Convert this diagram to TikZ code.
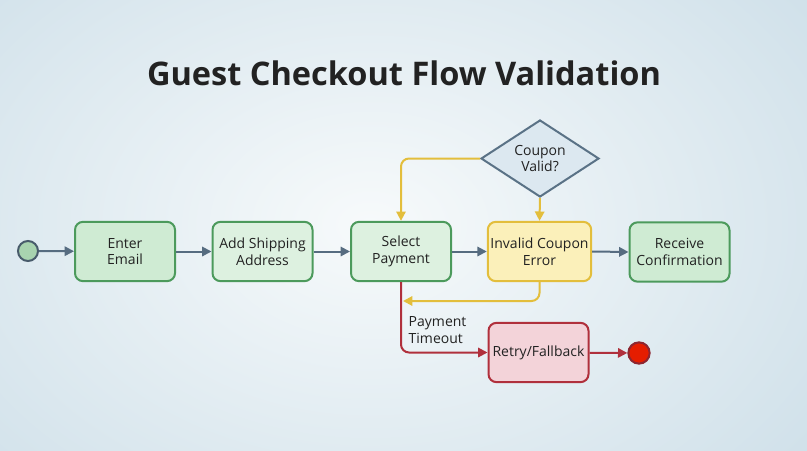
\documentclass[tikz,border=0pt]{standalone}
\usepackage{fontspec}
\setmainfont{Open Sans}
\usetikzlibrary{shapes.geometric,arrows.meta,positioning}
\definecolor{bgin}{HTML}{F7FAFB}
\definecolor{bgout}{HTML}{CCDEE8}
\definecolor{gfill}{HTML}{CFEBD3}
\definecolor{gfilll}{HTML}{DDF1E0}
\definecolor{gdraw}{HTML}{4C9A5C}
\definecolor{yfill}{HTML}{FBF0BA}
\definecolor{ydraw}{HTML}{E3BE3C}
\definecolor{rfill}{HTML}{F3D3D9}
\definecolor{rdraw}{HTML}{B0303C}
\definecolor{dfill}{HTML}{DCE8F0}
\definecolor{ddraw}{HTML}{5A7286}
\definecolor{arr}{HTML}{566C80}
\definecolor{txt}{HTML}{222222}
\begin{document}
\begin{tikzpicture}[x=0.75pt,y=-0.75pt,
  box/.style={rectangle,rounded corners=6pt,line width=1.5pt,minimum width=75pt,minimum height=44.5pt,align=center,font=\fontsize{10.5}{12.5}\selectfont,text=txt,inner sep=2pt},
  gbox/.style={box,draw=gdraw,fill=gfill},
  gboxl/.style={box,draw=gdraw,fill=gfilll},
  ybox/.style={box,draw=ydraw,fill=yfill},
  rbox/.style={box,draw=rdraw,fill=rfill},
  arrowline/.style={draw=arr,line width=1.5pt,-{Triangle[length=7pt,width=7pt]}},
  yline/.style={draw=ydraw,line width=1.5pt,rounded corners=6pt,-{Triangle[length=7pt,width=7pt]}},
  rline/.style={draw=rdraw,line width=1.5pt,rounded corners=6pt,-{Triangle[length=7pt,width=7pt]}}
]
\useasboundingbox (0,0) rectangle (807,450);
\begin{scope}
\clip (0,0) rectangle (807,450);
\shade[inner color=bgin,outer color=bgout] (-230,-200) rectangle (970,650);
\end{scope}
\node[font=\fontsize{24.4}{28}\selectfont\bfseries,text=txt] (title) at (404,73) {Guest Checkout Flow Validation};
\node[circle,draw=ddraw!80!black,fill=gfill!70!gdraw,line width=1.5pt,minimum size=15pt,inner sep=0pt] (start) at (28,251) {};
\node[gbox] (email) at (125,251.5) {Enter\\Email};
\node[gboxl] (ship) at (262.5,251.5) {Add Shipping\\Address};
\node[gboxl] (pay) at (401,251.5) {Select\\Payment};
\node[ybox] (inv) at (539.5,251.5) {Invalid Coupon\\Error};
\node[gbox] (conf) at (679.5,252) {Receive\\Confirmation};
\node[diamond,draw=ddraw,fill=dfill,line width=1.5pt,aspect=1.53,minimum width=88.5pt,minimum height=57.75pt,inner sep=0pt,align=center,font=\fontsize{10.5}{12.5}\selectfont,text=txt] (dia) at (540,158.5) {Coupon\\Valid?};
\node[rbox] (retry) at (538.5,352.5) {Retry/Fallback};
\node[circle,draw=rdraw!80!black,fill=red!75!orange!90!black,line width=1.5pt,minimum size=16pt,inner sep=0pt] (end) at (639,353) {};
\draw[arrowline] (start) -- (email);
\draw[arrowline] (email) -- (ship);
\draw[arrowline] (ship) -- (pay);
\draw[arrowline] (pay) -- (inv);
\draw[arrowline] (inv.east) -- (conf.west);
\draw[yline] (dia.west) -| (pay.north);
\draw[yline] (dia.south) -- (inv.north);
\coordinate (ymeet) at (403,301);
\draw[yline] (inv.south) |- (ymeet);
\draw[rline] (pay.south) |- (retry.west);
\draw[draw=rdraw,line width=1.5pt,-{Triangle[length=7pt,width=7pt]}] (retry) -- (end);
\node[anchor=west,align=left,font=\fontsize{10.5}{12.5}\selectfont,text=txt] (lbl) at (404,330) {Payment\\Timeout};
\end{tikzpicture}
\end{document}
